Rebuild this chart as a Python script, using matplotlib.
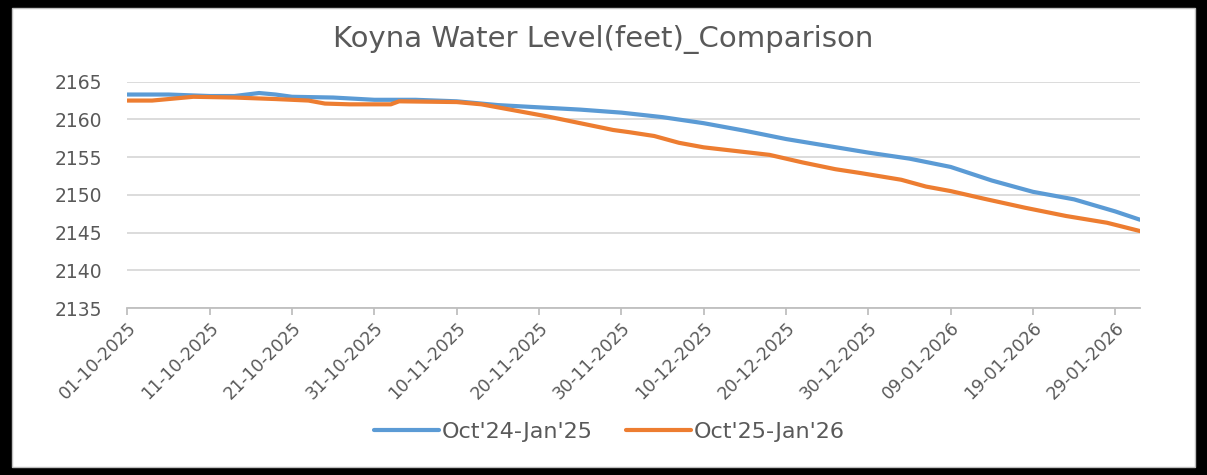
import matplotlib
matplotlib.use("Agg")
import matplotlib.pyplot as plt
import matplotlib.dates as mdates
from matplotlib.patches import Rectangle
import pandas as pd

## values (feet)
blue_dates = ["01-10-2025", "06-10-2025", "11-10-2025", "14-10-2025", "17-10-2025", "19-10-2025",
              "21-10-2025", "26-10-2025", "31-10-2025", "05-11-2025", "10-11-2025", "15-11-2025",
              "20-11-2025", "25-11-2025", "30-11-2025", "05-12-2025", "10-12-2025", "15-12-2025",
              "20-12-2025", "25-12-2025", "30-12-2025", "04-01-2026", "09-01-2026", "14-01-2026",
              "19-01-2026", "24-01-2026", "29-01-2026", "01-02-2026"]
blue_level = [2163.3, 2163.3, 2163.1, 2163.1, 2163.5, 2163.3,
              2163.0, 2162.9, 2162.6, 2162.6, 2162.4, 2161.9,
              2161.6, 2161.3, 2160.9, 2160.3, 2159.5, 2158.5,
              2157.4, 2156.5, 2155.6, 2154.8, 2153.7, 2151.9,
              2150.4, 2149.4, 2147.8, 2146.7]

orange_dates = ["01-10-2025", "04-10-2025", "09-10-2025", "14-10-2025", "19-10-2025", "23-10-2025",
                "25-10-2025", "28-10-2025", "02-11-2025", "03-11-2025", "10-11-2025", "13-11-2025",
                "18-11-2025", "21-11-2025", "25-11-2025", "29-11-2025", "01-12-2025", "04-12-2025",
                "07-12-2025", "10-12-2025", "14-12-2025", "18-12-2025", "22-12-2025", "26-12-2025",
                "29-12-2025", "03-01-2026", "06-01-2026", "09-01-2026", "13-01-2026", "18-01-2026",
                "23-01-2026", "28-01-2026", "01-02-2026"]
orange_level = [2162.5, 2162.5, 2163.0, 2162.9, 2162.7, 2162.5,
                2162.1, 2162.0, 2162.0, 2162.4, 2162.3, 2162.0,
                2161.0, 2160.4, 2159.5, 2158.6, 2158.3, 2157.8,
                2156.9, 2156.3, 2155.8, 2155.3, 2154.3, 2153.4,
                2152.9, 2152.0, 2151.1, 2150.5, 2149.5, 2148.3,
                2147.2, 2146.3, 2145.2]

labels = ["Oct'24-Jan'25", "Oct'25-Jan'26"]

blue = pd.Series(blue_level, index=pd.to_datetime(blue_dates, dayfirst=True))
orange = pd.Series(orange_level, index=pd.to_datetime(orange_dates, dayfirst=True))

plt.rcParams['font.family'] = ['DejaVu Sans']
grey_txt = '#595959'

fig = plt.figure(figsize=(12.07, 4.75), dpi=100)
fig.patch.set_facecolor('black')
# white card inside the black frame
card = Rectangle((12 / 1207, 8 / 475), (1195 - 12) / 1207, (467 - 8) / 475,
                 transform=fig.transFigure, facecolor='white',
                 edgecolor='#BFBFBF', linewidth=1, zorder=-5)
fig.add_artist(card)

ax = fig.add_axes([127.4 / 1207, 1 - 308 / 475, (1140 - 127.4) / 1207, (308 - 81.7) / 475])
ax.set_facecolor('none')
ax.set_zorder(2)

ax.plot(blue.index, blue.values, color='#5B9BD5', lw=3, label=labels[0], solid_capstyle='round')
ax.plot(orange.index, orange.values, color='#ED7D31', lw=3, label=labels[1], solid_capstyle='round')

ax.set_ylim(2135, 2165)
ax.set_yticks(range(2135, 2166, 5))
ax.set_xlim(pd.Timestamp('2025-10-01'), pd.Timestamp('2026-02-01'))
ax.set_xticks(pd.date_range('2025-10-01', '2026-01-29', freq='10D'))
ax.xaxis.set_major_formatter(mdates.DateFormatter('%d-%m-%Y'))

ax.grid(axis='y', color='#D9D9D9', lw=1.3)
ax.set_axisbelow(True)
for s in ['top', 'right', 'left']:
    ax.spines[s].set_visible(False)
ax.spines['bottom'].set_color('#BFBFBF')
ax.spines['bottom'].set_linewidth(1.3)
ax.tick_params(axis='y', length=0, pad=18, labelsize=13.5, labelcolor=grey_txt)
ax.tick_params(axis='x', length=5, color='#BFBFBF', width=1.3, pad=3, labelsize=12.5, labelcolor=grey_txt)
for lab in ax.get_xticklabels():
    lab.set_rotation(45)
    lab.set_ha('right')
    lab.set_rotation_mode('anchor')

fig.text(0.5, 1 - 40 / 475, 'Koyna Water Level(feet)_Comparison', ha='center', va='center',
         fontsize=21, color=grey_txt)

fig.legend(loc='center', bbox_to_anchor=(0.505, 1 - 432 / 475), ncol=2, frameon=False,
           fontsize=16, labelcolor=grey_txt, handlelength=2.9, handletextpad=0.15,
           columnspacing=1.5)

fig.savefig('out.png', dpi=100, facecolor=fig.get_facecolor())
